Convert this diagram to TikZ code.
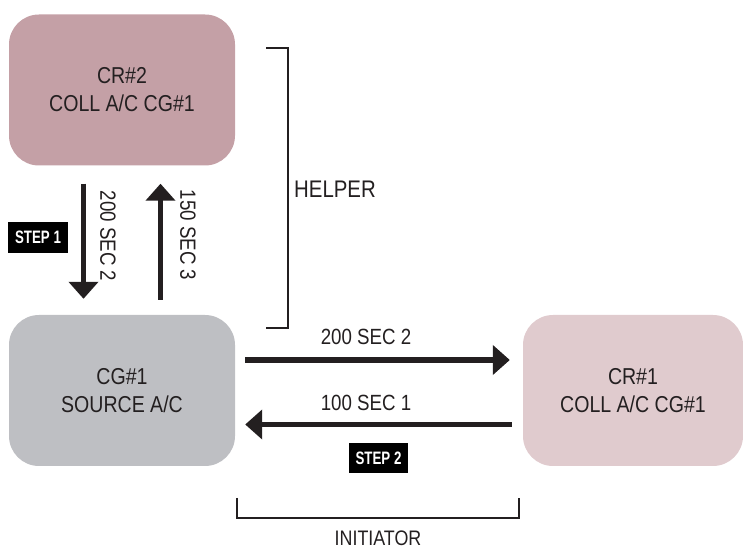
\documentclass[tikz,border=0pt]{standalone}
\usepackage{fontspec}
\setmainfont[FakeStretch=0.85]{Liberation Sans}
\newfontfamily\stepfont[FakeStretch=0.74]{Liberation Sans}
\usetikzlibrary{arrows.meta,positioning}
\definecolor{ink}{HTML}{231F20}
\definecolor{helperfill}{HTML}{C4A0A6}
\definecolor{sourcefill}{HTML}{BEBFC3}
\definecolor{initfill}{HTML}{E0CBCE}
\tikzset{
  craft/.style={
    rounded corners=30pt,
    align=center,
    minimum width=226pt,
    minimum height=151pt,
    inner sep=0pt,
    text=ink,
    font=\fontsize{23}{28}\selectfont
  },
  tag/.style={
    fill=black,
    text=white,
    minimum width=60pt,
    minimum height=31pt,
    inner sep=0pt,
    font=\stepfont\bfseries\fontsize{18}{18}\selectfont
  },
  msg/.style={
    text=ink,
    inner sep=0pt,
    font=\fontsize{22}{26}\selectfont
  },
  bigarrow/.style={-{Triangle[width=29pt,length=17pt]}, line width=5.5pt, draw=ink},
  bracket/.style={line width=1.2pt, draw=ink}
}
\begin{document}
\begin{tikzpicture}[x=1pt,y=1pt]
\useasboundingbox (0,0) rectangle (743,556);

% --- Aircraft
\node[craft, fill=helperfill] (cr2) at (122,466) {CR\#2\\COLL A/C CG\#1};
\node[craft, fill=sourcefill] (src) at (122,165.5) {CG\#1\\SOURCE A/C};
\node[craft, fill=initfill, minimum width=220pt] (cr1) at (633,165.5) {CR\#1\\COLL A/C CG\#1};

% --- Step tags
\node[tag] (step1) at (38,318.5) {STEP 1};
\node[tag, minimum width=59pt, minimum height=30pt] (step2) at (378.5,98) {STEP 2};

% --- Helper exchange
\draw[bigarrow, shorten <=18pt, shorten >=16pt] ([xshift=-38.5pt]cr2.south) -- ([xshift=-38.5pt]src.north);
\draw[bigarrow, shorten <=15pt, shorten >=18pt] ([xshift=38.5pt]src.north) -- ([xshift=38.5pt]cr2.south);
\node[msg, rotate=-90] (downlbl) at (108,320) {200 SEC 2};
\node[msg, rotate=-90] (uplbl) at (188,321) {150 SEC 3};

% --- Initiator exchange
\draw[bigarrow, shorten <=10pt, shorten >=13pt] ([yshift=30.5pt]src.east) -- ([yshift=30.5pt]cr1.west)
  node[msg, pos=0.455, above=13pt] (rightlbl) {200 SEC 2};
\draw[bigarrow, shorten <=11pt, shorten >=10pt] ([yshift=-34pt]cr1.west) -- ([yshift=-34pt]src.east)
  node[msg, pos=0.545, above=11pt] (leftlbl) {100 SEC 1};

% --- Brackets
\draw[bracket] (266,508) -| (288,228) -- (266,228);
\node[msg, anchor=west, font=\fontsize{24}{28}\selectfont] (helper) at (294,367) {HELPER};
\draw[bracket] (237,58) |- (519,38) -- (519,58);
\node[msg, font=\fontsize{21}{25}\selectfont] (initiator) at (378,18) {INITIATOR};

\end{tikzpicture}
\end{document}
